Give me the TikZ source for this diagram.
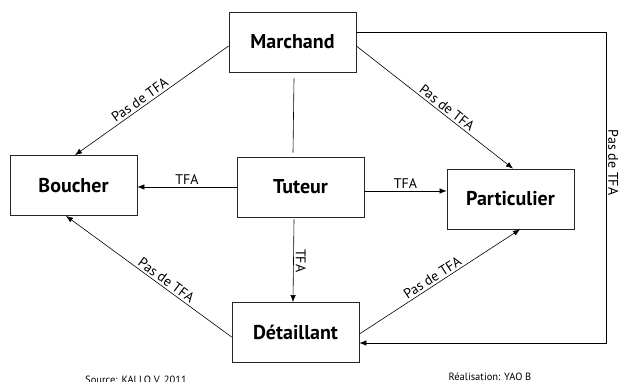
\documentclass[tikz,border=0pt]{standalone}
\usepackage{fontspec}
\setmainfont{PT Sans}
\usetikzlibrary{arrows.meta}

\begin{document}
\begin{tikzpicture}[
        x=1pt, y=-1pt,
        acteur/.style={draw=black!85, line width=0.8pt, minimum width=127pt, minimum height=60pt, inner sep=0pt, font=\fontsize{20}{23}\selectfont\bfseries},
        flux/.style={draw, -{Latex[length=7pt,width=5.5pt]}, line width=0.6pt},
        lien/.style={draw, line width=0.6pt},
        etiq/.style={font=\fontsize{14}{16}\selectfont, inner sep=2pt},
        pied/.style={font=\fontsize{10.5}{12}\selectfont, inner sep=0pt, anchor=base},
    ]
    \useasboundingbox (0,0) rectangle (621,382);

    \node[acteur](marchand) at (292.5,42){Marchand};
    \node[acteur](boucher) at (73.5,185.5){Boucher};
    \node[acteur](tuteur) at (300.5,187){Tuteur};
    \node[acteur](particulier) at (510.5,199){Particulier};
    \node[acteur](detaillant) at (295.5,332.5){Détaillant};
    \coordinate (coin) at (606,32);

    \draw[flux] ([yshift=-4pt]marchand.west) -- node[etiq, sloped, above, pos=0.55]{Pas de TFA} ([xshift=1.5pt]boucher.north);
    \draw[flux] ([yshift=-4pt]marchand.east) -- node[etiq, sloped, above, pos=0.55]{Pas de TFA} ([xshift=2.5pt]particulier.north);
    \draw[lien] ([xshift=1.5pt,yshift=-6pt]marchand.south) -- ([xshift=-7.5pt,yshift=4pt]tuteur.north);
    \draw[flux] ([yshift=10pt]marchand.east) -- (coin) |- node[etiq, rotate=-90, anchor=south, pos=0.21]{Pas de TFA} ([yshift=-10.5pt]detaillant.east);
    \draw[flux] (tuteur.west) -- node[etiq, above]{TFA} (tuteur.west -| boucher.east);
    \draw[flux] ([yshift=-4pt]tuteur.east) -- node[etiq, above]{TFA} ([yshift=-4pt]tuteur.east -| particulier.west);
    \draw[flux] ([xshift=-6.5pt,yshift=-2pt]tuteur.south) -- node[etiq, rotate=-90, anchor=south]{TFA} ([xshift=-2.5pt]detaillant.north);
    \draw[flux] ([yshift=-4.5pt]detaillant.west) -- node[etiq, sloped, above, pos=0.42]{Pas de TFA} ([xshift=-7.5pt]boucher.south);
    \draw[flux] ([yshift=-1.5pt]detaillant.east) -- node[etiq, sloped, above, pos=0.48]{Pas de TFA} ([xshift=9.5pt]particulier.south);

    \node[pied](source) at (136,383){Source: KALLO V. 2011};
    \node[pied](realisation) at (490,380){Réalisation: YAO B};
\end{tikzpicture}
\end{document}
